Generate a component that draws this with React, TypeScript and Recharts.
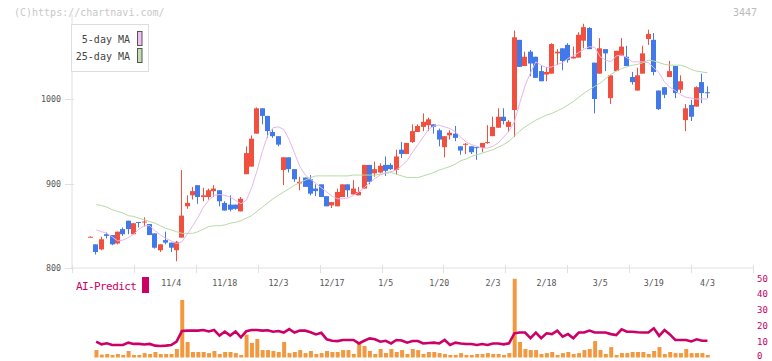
import React from "react";
import { ComposedChart, Bar, Line, XAxis, YAxis } from "recharts";

// date labels sit under every 10th candle
const dateTickIndex = [15, 25, 35, 45, 55, 65, 75, 85, 95, 105, 115];
const dateTickLabels = ["11/4", "11/18", "12/3", "12/17", "1/5", "1/20", "2/3", "2/18", "3/5", "3/19", "4/3"];
const priceTicks = [800, 900, 1000];
const aiTicks = [0, 10, 20, 30, 40, 50];

const opens = [
  837, 828, 822, 840, 839, 829, 846, 856, 840, 854.5, 854, 852, 841, 821, 833, 830, 821, 836, 873, 886,
  898, 884, 884, 891, 892, 877, 875, 875, 867, 911, 920, 959, 989, 980, 961, 956, 916, 931, 917, 900,
  907, 905, 894, 899, 885, 874, 873, 884, 899, 887, 886, 894, 922, 912, 913, 922, 922, 916, 940, 935,
  949, 961, 967, 969, 970, 963, 943, 957, 959, 944, 946, 944, 943, 942, 948, 956, 966, 979, 967, 987,
  1070, 1039, 1056, 1050, 1033, 1029, 1030, 1054, 1060, 1064, 1048, 1049, 1069, 1084, 1043, 1030, 1059, 1001, 1033, 1051,
  1050, 1026, 1010, 1030, 1071, 1070, 1010, 1014, 1026, 1039, 1011, 975, 993, 991, 1020, 1008,
];
const highs = [
  837.5, 828, 837, 842, 839, 843, 848, 856, 853, 854.5, 860, 852, 841, 828, 843, 830, 832, 916, 886, 896,
  898, 895, 894, 898, 892, 879, 886, 875, 884, 944, 957, 990, 989, 980, 964, 956, 931, 931, 917, 908,
  907, 910, 899, 899, 885, 878, 894, 899, 899, 904, 896, 922, 922, 926, 924, 932, 924, 940, 949, 948,
  970, 970, 983, 978, 970, 965, 956, 963, 968, 944, 948, 944, 943, 948, 969, 979, 989, 989, 975, 1081,
  1070, 1056, 1058, 1050, 1040, 1038, 1066, 1059, 1060, 1066, 1062, 1079, 1089, 1085, 1043, 1072, 1059, 1028, 1057, 1072,
  1063, 1032, 1037, 1063, 1082, 1078, 1010, 1014, 1045, 1039, 1028, 994, 999, 1015, 1030, 1015,
];
const lows = [
  836.5, 816, 821, 835, 827, 828, 838, 840, 840, 848, 849, 839, 823, 819, 828, 819, 808, 836, 870, 881,
  876, 879, 881, 884, 873, 868, 867, 869, 867, 911, 920, 959, 970, 954, 954, 944, 898, 913, 902, 892,
  896, 886, 885, 884, 873, 871, 873, 884, 884, 887, 886, 894, 899, 908, 912, 909, 916, 911, 930, 935,
  948, 961, 962, 962, 959, 944, 931, 952, 950, 934, 935, 935, 928, 937, 947, 956, 966, 970, 961, 955,
  1038, 1039, 1027, 1025, 1021, 1021, 1030, 1040, 1034, 1043, 1048, 1049, 1060, 1059, 983, 1030, 1033, 994, 1033, 1051,
  1039, 1017, 1010, 1030, 1064, 1028, 987, 1001, 1026, 1001, 1007, 962, 974, 991, 995, 1001,
];
const closes = [
  837, 819, 834, 838, 828, 843, 840, 846, 853, 854, 855, 839, 824, 828, 830, 824, 831, 862, 877, 891,
  884, 886, 892, 894, 879, 868, 869, 870, 882, 936, 953, 989, 980, 962, 956, 946, 931, 917, 905, 902,
  896, 888, 891, 884, 873, 878, 890, 899, 892, 894, 890, 922, 902, 917, 921, 915, 917, 932, 935, 948,
  962, 968, 973, 976, 967, 952, 956, 960, 954, 939, 947, 937, 942, 948, 949, 967, 979, 974, 973, 1073,
  1038, 1050, 1042, 1025, 1021, 1032, 1065, 1056, 1045, 1046, 1050, 1076, 1085, 1059, 1000, 1060, 1054, 1028, 1057, 1062,
  1039, 1020, 1028, 1054, 1077, 1032, 988, 1005, 1033, 1007, 1021, 989, 979, 1014, 1007, 1007.5,
];
const ma5 = [
  null, 845, 843, 841, 837, 832, 833, 836, 840, 846, 850, 850, 844, 839, 835, 832, 829, 831, 840, 850,
  860, 872, 880, 886, 887, 886, 884, 880, 876, 880, 895, 915, 938, 957, 966, 967, 964, 952, 936, 920,
  910, 905, 900, 895, 890, 885, 882, 882, 883, 886, 890, 895, 901, 906, 910, 913, 914, 916, 921, 927,
  937, 946, 955, 964, 968, 969, 967, 965, 961, 955, 949, 946, 944, 942, 942, 944, 948, 955, 962, 973,
  995, 1016, 1031, 1044, 1040, 1037, 1038, 1041, 1043, 1048, 1051, 1055, 1059, 1062, 1061, 1050, 1046, 1044, 1051, 1052,
  1049, 1044, 1044, 1044, 1043, 1037, 1031, 1020, 1014, 1010, 1005, 1002, 1001, 1000, 1000, 1000,
];
const ma25 = [
  null, 875, 874, 872, 869, 867, 865, 862, 861, 859, 857, 855, 853, 850, 847, 845, 843, 841, 841, 841,
  843, 846, 849, 850, 850, 851, 853, 854, 856, 859, 862, 867, 872, 877, 882, 886, 890, 894, 898, 901,
  904, 907, 909, 909, 909, 909, 909, 909, 909, 910, 910, 910, 910, 910, 911, 912, 913, 911, 909, 907,
  907, 907, 909, 911, 913, 916, 918, 920, 923, 927, 929, 932, 934, 936, 938, 940, 943, 946, 950, 956,
  962, 967, 971, 975, 978, 981, 983, 986, 989, 993, 997, 1002, 1007, 1011, 1015, 1019, 1024, 1029, 1033, 1036,
  1038, 1040, 1041, 1043, 1046, 1045, 1043, 1041, 1040, 1040, 1040, 1038, 1035, 1033, 1032, 1031,
];
const volume = [
  null, 4.7, 1.8, 2.2, 1.6, 2.2, 1.6, 4.1, 1.6, 1.6, 2.8, 2.2, 3.5, 2.2, 2.2, 2.2, 5.4, 36.4, 9.8, 3.5,
  3.5, 3.5, 2.8, 4.1, 2.2, 3.5, 3.5, 2.8, 1.6, 14.5, 9.2, 11.7, 4.7, 4.7, 4.1, 3.5, 9.8, 2.8, 3.5, 4.7,
  2.8, 4.1, 2.2, 2.8, 4.1, 3.5, 3.5, 4.7, 4.7, 2.2, 9.2, 7.3, 4.1, 2.2, 5.4, 2.8, 5.4, 3.5, 4.7, 2.2,
  5.4, 4.7, 2.2, 3.5, 3.5, 2.8, 2.2, 1.6, 1.6, 2.8, 1.6, 1.6, 2.2, 2.2, 2.8, 2.2, 2.2, 1.6, 2.8, 49.8,
  9.8, 5.4, 4.7, 4.7, 2.2, 2.8, 3.5, 1.6, 2.8, 3.5, 2.2, 2.8, 4.7, 5.4, 10.4, 4.7, 2.2, 6.6, 1.6, 2.8,
  2.8, 3.5, 3.5, 3.5, 2.2, 4.1, 6.6, 2.2, 3.5, 2.8, 2.8, 5.4, 2.8, 2.8, 2.8, 1.6,
];
const aiPredict = [
  null, 10.0, 8.3, 9.0, 7.9, 7.9, 7.9, 9.4, 8.6, 8.6, 8.2, 8.6, 7.5, 7.3, 7.5, 7.9, 10.0, 16.8, 17.0, 17.0,
  17.0, 17.4, 16.5, 17.4, 13.9, 16.4, 13.9, 16.5, 12.8, 16.6, 17.4, 17.4, 17.0, 17.2, 16.3, 16.8, 15.8, 18.0, 15.8, 17.0,
  17.0, 16.0, 14.6, 15.6, 11.5, 10.6, 10.4, 11.1, 11.1, 11.1, 8.9, 10.6, 12.1, 11.5, 10.0, 10.6, 8.9, 11.1, 10.8, 9.4,
  10.4, 10.4, 8.9, 9.2, 9.4, 8.9, 11.1, 7.9, 9.4, 8.9, 8.5, 8.5, 7.9, 8.5, 7.9, 8.9, 8.9, 8.3, 9.0, 15.3,
  15.8, 15.8, 12.2, 15.8, 12.2, 15.3, 14.8, 17.0, 13.2, 14.8, 12.2, 15.8, 15.8, 17.0, 15.8, 15.8, 15.8, 14.8, 14.2, 17.8,
  16.3, 16.3, 16.0, 15.8, 15.8, 18.5, 13.7, 17.4, 14.6, 11.1, 11.1, 11.1, 10.2, 11.5, 10.6, 10.6,
];

const RED = "#f2503f";
const BLUE = "#4179ea";
const AXIS = "#e0e0e0";
const MAGENTA = "#cc0066";
const MONO = "'DejaVu Sans Mono', monospace";

// slot axis: 3 empty slots before the first candle, 8 after the last
const SLOT_MIN = -3.5;
const SLOT_MAX = 123.5;
const markTicks = Array.from({ length: 12 }, (_, k) => SLOT_MIN + (k * (SLOT_MAX - SLOT_MIN)) / 11);

const priceData = opens.map((o, i) => ({
  i,
  o,
  h: highs[i],
  l: lows[i],
  c: closes[i],
  range: [lows[i], highs[i]],
  ma5: ma5[i],
  ma25: ma25[i],
}));

const aiData = volume.map((v, i) => ({ i, vol: v, ai: aiPredict[i] }));

function Candle(props: any) {
  const { x, y, width, height, payload } = props;
  if (!payload || payload.o == null) return null;
  const { o, h, l, c } = payload;
  const k = h > l ? height / (h - l) : 0;
  const py = (v: number) => y + (h - v) * k;
  const color = c >= o ? RED : BLUE;
  const bx = Math.round(x);
  const cx = bx + width / 2;
  const top = py(Math.max(o, c));
  const bot = py(Math.min(o, c));
  return (
    <g>
      <line x1={cx} x2={cx} y1={y} y2={y + height} stroke={color} strokeWidth={1} />
      <rect x={bx} y={top} width={width} height={Math.max(bot - top, 1)} fill={color} />
    </g>
  );
}

function DateTick(props: any) {
  const { x, y, payload } = props;
  const k = dateTickIndex.indexOf(payload.value);
  if (k < 0) {
    const lx = Math.round(x) + 0.5;
    return <line x1={lx} x2={lx} y1={y - 3} y2={y + 5} stroke={AXIS} />;
  }
  return (
    <text x={x} y={y + 15} textAnchor="middle" dominantBaseline="central" fontSize={8.3} fill="#555" fontFamily={MONO}>
      {dateTickLabels[k]}
    </text>
  );
}

function PriceTick(props: any) {
  const { x, y, payload } = props;
  const ly = Math.round(y) + 0.5;
  return (
    <g>
      <line x1={x - 7} x2={x + 2} y1={ly} y2={ly} stroke={AXIS} />
      <text x={x - 11} y={y} textAnchor="end" dominantBaseline="central" fontSize={8.3} fill="#555" fontFamily={MONO}>
        {payload.value}
      </text>
    </g>
  );
}

function AiTick(props: any) {
  const { x, y, payload } = props;
  // keep the bottom label inside the picture
  const ty = payload.value === 0 ? Math.min(y, 355.5) : y;
  return (
    <text x={x + 4} y={ty} textAnchor="start" dominantBaseline="central" fontSize={9} fill={MAGENTA} fontFamily={MONO}>
      {payload.value}
    </text>
  );
}

export default function App() {
  return (
    <div style={{ position: "absolute", left: 0, top: 0, width: 772, height: 361, background: "#fff" }}>
      <div style={{ position: "absolute", left: 0, top: 0 }}>
        <ComposedChart width={772} height={300} data={priceData} margin={{ top: 14.5, right: 19, bottom: 0, left: 22 }}>
          <XAxis
            dataKey="i"
            type="number"
            domain={[SLOT_MIN, SLOT_MAX]}
            ticks={[...dateTickIndex, ...markTicks]}
            interval={0}
            height={32}
            tickLine={false}
            tickSize={0}
            tickMargin={0}
            axisLine={{ stroke: AXIS }}
            tick={<DateTick />}
          />
          <YAxis
            type="number"
            domain={[800, 1100]}
            ticks={priceTicks}
            interval={0}
            width={50}
            tickLine={false}
            tickSize={0}
            tickMargin={0}
            axisLine={{ stroke: AXIS }}
            tick={<PriceTick />}
          />
          <Bar dataKey="range" barSize={5} shape={<Candle />} isAnimationActive={false} />
          <Line dataKey="ma25" type="linear" stroke="#b5dba5" strokeWidth={1} dot={false} isAnimationActive={false} />
          <Line dataKey="ma5" type="linear" stroke="#e8b6ec" strokeWidth={1} dot={false} isAnimationActive={false} />
        </ComposedChart>
      </div>
      <div style={{ position: "absolute", left: 0, top: 0 }}>
        <ComposedChart width={772} height={361} data={aiData} margin={{ top: 278.5, right: 0, bottom: 3.5, left: 72 }}>
          <XAxis dataKey="i" type="number" domain={[SLOT_MIN, SLOT_MAX]} hide />
          <YAxis
            orientation="right"
            type="number"
            domain={[0, 50]}
            ticks={aiTicks}
            interval={0}
            width={19}
            axisLine={false}
            tickLine={false}
            tickSize={0}
            tickMargin={0}
            tick={<AiTick />}
          />
          <Bar dataKey="vol" barSize={4} fill="#f2993f" isAnimationActive={false} />
          <Line dataKey="ai" type="linear" stroke={MAGENTA} strokeWidth={2.6} dot={false} isAnimationActive={false} />
        </ComposedChart>
      </div>
      <svg width={772} height={361} style={{ position: "absolute", left: 0, top: 0, pointerEvents: "none" }}>
        <text x={14} y={12} dominantBaseline="central" fontSize={10} fill="#c8c8c8" fontFamily={MONO}>
          (C)https://chartnavi.com/
        </text>
        <text x={757} y={12} textAnchor="end" dominantBaseline="central" fontSize={10} fill="#bbb" fontFamily={MONO}>
          3447
        </text>
        <rect x={71.5} y={24.5} width={77} height={47} fill="#fff" stroke="#ddd" />
        <text x={130} y={39.5} textAnchor="end" dominantBaseline="central" fontSize={10} fill="#444" fontFamily={MONO}>
          5-day MA
        </text>
        <text x={130} y={56} textAnchor="end" dominantBaseline="central" fontSize={10} fill="#444" fontFamily={MONO}>
          25-day MA
        </text>
        <rect x={137.5} y={31.5} width={4.5} height={14} fill="#f0c0f0" stroke="#555" />
        <rect x={137.5} y={48.5} width={4.5} height={14} fill="#c0e0b0" stroke="#555" />
        <text x={76} y={286} dominantBaseline="central" fontSize={11} letterSpacing={-0.6} fill={MAGENTA} fontFamily={MONO}>
          AI-Predict
        </text>
        <rect x={142} y={277} width={7} height={16} fill={MAGENTA} />
      </svg>
    </div>
  );
}
